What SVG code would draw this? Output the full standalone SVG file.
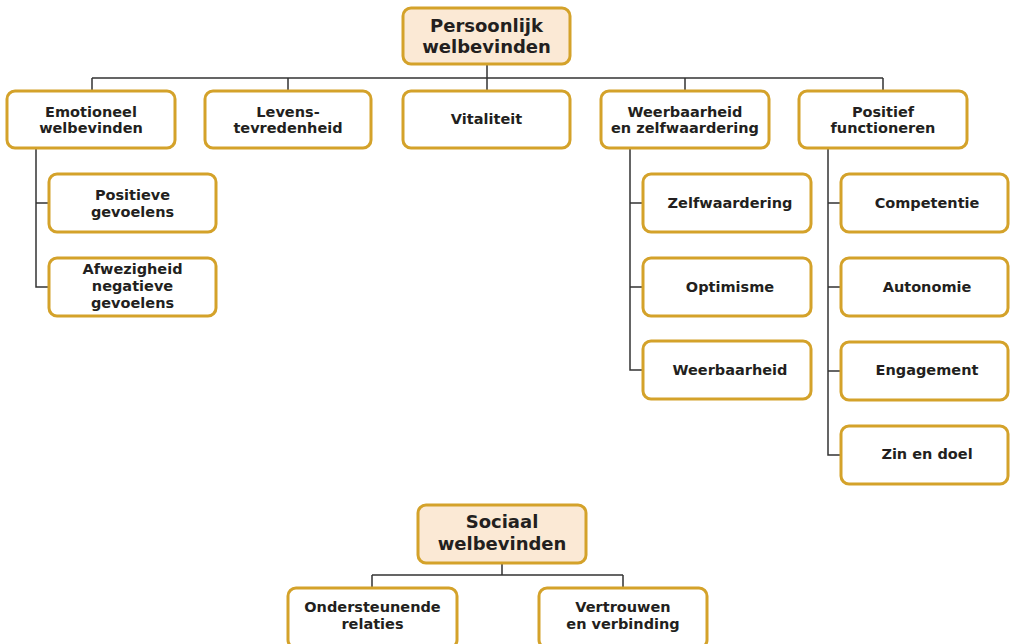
<svg xmlns="http://www.w3.org/2000/svg" width="1013" height="644" viewBox="0 0 1013 644">
<style>
.b{fill:#fff;stroke:#D4A22A;stroke-width:3}
.r{fill:#FBE9D5;stroke:#D4A22A;stroke-width:3}
text{font-family:"DejaVu Sans","Verdana",sans-serif;font-weight:bold;font-size:14.5px;fill:#231F20;text-anchor:middle}
.h{font-size:18px}
.c{fill:none;stroke:#333;stroke-width:1.5}
</style>
<rect width="1013" height="644" fill="#fff"/>
<g id="connectors">
<path class="c" d="M487 64V78M92 78H883M92 78V91M288 78V91M487 78V91M685 78V91M883 78V91"/>
<path class="c" d="M36 148V287H49M36 203H49"/>
<path class="c" d="M630 148V370H643M630 203H643M630 287H643"/>
<path class="c" d="M828 148V455H841M828 203H841M828 287H841M828 371H841"/>
<path class="c" d="M502 563V575M372 575H623M372 575V588M623 575V588"/>
</g>
<g id="root"><rect class="r" x="403" y="8" width="167" height="56" rx="8"/><text class="h" x="486.5" y="32">Persoonlijk</text><text class="h" x="486.5" y="53">welbevinden</text></g>
<g id="emotioneel"><rect class="b" x="7" y="91" width="168" height="57" rx="8"/><text x="91" y="117">Emotioneel</text><text x="91" y="133">welbevinden</text></g>
<g id="levens"><rect class="b" x="205" y="91" width="166" height="57" rx="8"/><text x="288" y="117">Levens-</text><text x="288" y="133">tevredenheid</text></g>
<g id="vitaliteit"><rect class="b" x="403" y="91" width="167" height="57" rx="8"/><text x="486.5" y="124">Vitaliteit</text></g>
<g id="weerbaarheid-zelf"><rect class="b" x="601" y="91" width="168" height="57" rx="8"/><text x="685" y="117">Weerbaarheid</text><text x="685" y="133">en zelfwaardering</text></g>
<g id="positief"><rect class="b" x="799" y="91" width="168" height="57" rx="8"/><text x="883" y="117">Positief</text><text x="883" y="133">functioneren</text></g>
<g id="positieve"><rect class="b" x="49" y="174" width="167" height="58" rx="8"/><text x="132.5" y="200">Positieve</text><text x="132.5" y="217">gevoelens</text></g>
<g id="afwezigheid"><rect class="b" x="49" y="258" width="167" height="58" rx="8"/><text x="132.5" y="274">Afwezigheid</text><text x="132.5" y="291">negatieve</text><text x="132.5" y="308">gevoelens</text></g>
<g id="zelfwaardering"><rect class="b" x="643" y="174" width="168" height="58" rx="8"/><text x="730" y="208">Zelfwaardering</text></g>
<g id="optimisme"><rect class="b" x="643" y="258" width="168" height="58" rx="8"/><text x="730" y="292">Optimisme</text></g>
<g id="weerbaarheid"><rect class="b" x="643" y="341" width="168" height="58" rx="8"/><text x="730" y="375">Weerbaarheid</text></g>
<g id="competentie"><rect class="b" x="841" y="174" width="167" height="58" rx="8"/><text x="927" y="208">Competentie</text></g>
<g id="autonomie"><rect class="b" x="841" y="258" width="167" height="58" rx="8"/><text x="927" y="292">Autonomie</text></g>
<g id="engagement"><rect class="b" x="841" y="342" width="167" height="58" rx="8"/><text x="927" y="375">Engagement</text></g>
<g id="zin"><rect class="b" x="841" y="426" width="167" height="58" rx="8"/><text x="927" y="459">Zin en doel</text></g>
<g id="sociaal"><rect class="r" x="418" y="505" width="168" height="58" rx="8"/><text class="h" x="502" y="528">Sociaal</text><text class="h" x="502" y="550">welbevinden</text></g>
<g id="ondersteunende"><rect class="b" x="288" y="588" width="169" height="60" rx="8"/><text x="372.5" y="612">Ondersteunende</text><text x="372.5" y="629">relaties</text></g>
<g id="vertrouwen"><rect class="b" x="539" y="588" width="168" height="60" rx="8"/><text x="623" y="612">Vertrouwen</text><text x="623" y="629">en verbinding</text></g>
</svg>
